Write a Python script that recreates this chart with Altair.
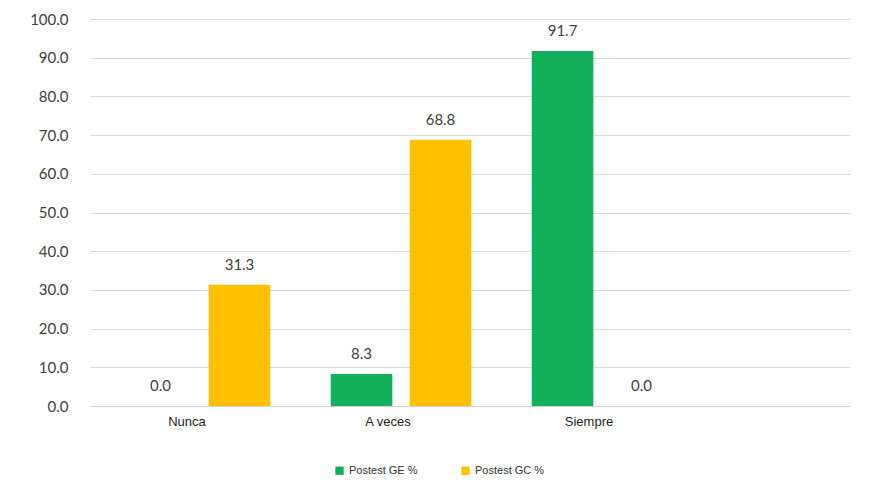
import altair as alt
import pandas as pd

categories = ["Nunca", "A veces", "Siempre"]
series = ["Postest GE %", "Postest GC %"]
ge_values = [0.0, 8.3, 91.7]
gc_values = [31.3, 68.8, 0.0]
colors = ["#12B05A", "#FFC000"]

rows = []
for c, g1, g2 in zip(categories, ge_values, gc_values):
    rows.append({"categoria": c, "serie": series[0], "valor": g1})
    rows.append({"categoria": c, "serie": series[1], "valor": g2})
df = pd.DataFrame(rows)

x = alt.X(
    "categoria:N",
    sort=categories,
    scale=alt.Scale(paddingInner=0.214, paddingOuter=0.4975, align=0.155),
    axis=alt.Axis(
        title=None, labelAngle=0, ticks=False, domain=True, domainColor="#d0d0d0",
        labelFont="Liberation Sans", labelFontSize=13, labelColor="#222222",
        labelPadding=9, labelOffset=-13,
    ),
)
xo = alt.XOffset("serie:N", sort=series, scale=alt.Scale(paddingInner=0.22, paddingOuter=0.11))
y = alt.Y(
    "valor:Q",
    scale=alt.Scale(domain=[0, 100]),
    axis=alt.Axis(
        title=None, values=list(range(0, 101, 10)), format=".1f", ticks=False, domain=False,
        gridColor="#d9d9d9", labelFont="Lato", labelFontSize=15, labelColor="#404040",
        labelPadding=22,
    ),
)

bars = alt.Chart(df).mark_bar().encode(
    x=x, xOffset=xo, y=y,
    color=alt.Color(
        "serie:N", sort=series,
        scale=alt.Scale(domain=series, range=colors),
        legend=alt.Legend(
            title=None, orient="none", direction="horizontal", legendX=244, legendY=446,
            symbolType="square", symbolSize=70, labelFont="Liberation Sans",
            labelFontSize=11, labelColor="#333333", columnPadding=42, symbolStrokeWidth=0,
        ),
    ),
)

labels = alt.Chart(df).mark_text(
    baseline="bottom", dy=-12, fontSize=15, font="Lato", color="#404040"
).encode(
    x=x, xOffset=xo, y=y,
    text=alt.Text("valor:Q", format=".1f"),
)

chart = (bars + labels).properties(
    width=760, height=387,
    autosize=alt.AutoSizeParams(type="none"),
    padding={"left": 82, "top": 11, "right": 30, "bottom": 78},
    background="white",
).configure_view(stroke=None)

chart.save("out.html", embed_options={"renderer": "svg", "actions": False})
